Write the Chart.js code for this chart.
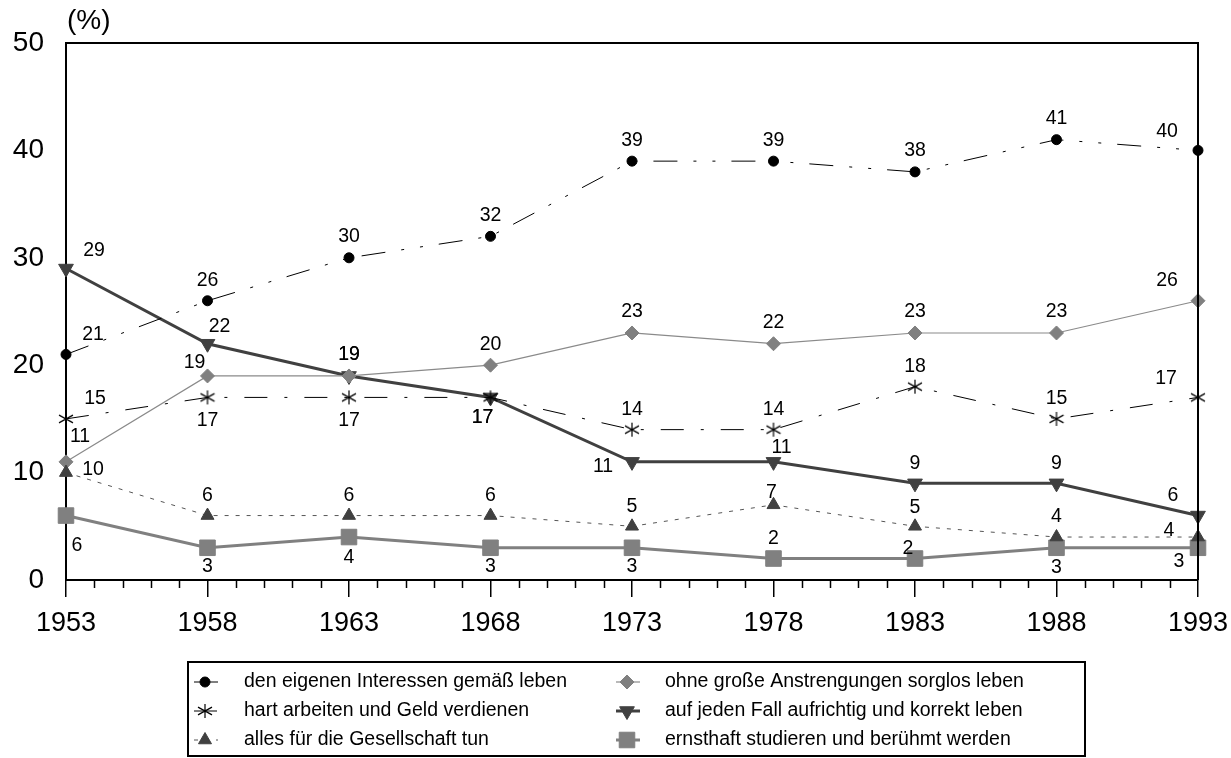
<!DOCTYPE html>
<html>
<head>
<meta charset="utf-8">
<script src="https://cdn.jsdelivr.net/npm/chart.js@4"></script>
<style>
  html, body { margin: 0; padding: 0; background: #fff; }
  canvas { display: block; }
</style>
</head>
<body>
<canvas id="chart" width="1231" height="758"></canvas>
<script>
// survey years and y ticks
const years = [1953, 1958, 1963, 1968, 1973, 1978, 1983, 1988, 1993];
const yTicks = [0, 10, 20, 30, 40, 50];

// series values (%)
const eigeneInteressen = [21, 26, 30, 32, 39, 39, 38, 41, 40];
const hartArbeiten = [15, 17, 17, 17, 14, 14, 18, 15, 17];
const gesellschaft = [10, 6, 6, 6, 5, 7, 5, 4, 4];
const sorglos = [11, 19, 19, 20, 23, 22, 23, 23, 26];
const aufrichtig = [29, 22, 19, 17, 11, 11, 9, 9, 6];
const beruehmt = [6, 3, 4, 3, 3, 2, 2, 3, 3];

// where each value label sits relative to its point (dx, dy)
const offEigene = [[27,-20],[0,-20],[0,-21],[0,-21],[0,-21],[0,-21],[0,-21],[0,-21],[-31,-19]];
const offHart = [[29,-20],[0,23],[0,23],[-8,20],[0,-20],[0,-20],[0,-20],[0,-20],[-32,-19]];
const offGesell = [[27,-3],[0,-20],[0,-20],[0,-20],[0,-20],[-2,-12],[0,-19],[0,-20],[-29,-6]];
const offSorglos = [[14,-25],[-13,-13],[0,-21],[0,-21],[0,-21],[0,-21],[0,-21],[0,-21],[-31,-20]];
const offAufrichtig = [[28,-18],[12,-17],[0,-21],[-8,20],[-29,5],[8,-14],[0,-20],[0,-20],[-25,-20]];
const offBeruehmt = [[11,30],[0,19],[0,21],[0,19],[0,19],[0,-20],[-7,-10],[0,20],[-19,14]];

const FONT = '"Liberation Sans", Arial, sans-serif';

// six-armed asterisk marker
function makeStar(r) {
  const c = document.createElement('canvas');
  c.width = c.height = r * 2 + 2;
  const g = c.getContext('2d');
  const m = r + 1;
  g.strokeStyle = '#000';
  g.lineWidth = 1.2;
  g.beginPath();
  g.moveTo(m, m - r); g.lineTo(m, m + r);
  g.moveTo(m - r, m - r * 0.55); g.lineTo(m + r, m + r * 0.55);
  g.moveTo(m - r, m + r * 0.55); g.lineTo(m + r, m - r * 0.55);
  g.stroke();
  return c;
}

const toPoints = vals => vals.map((v, i) => ({ x: years[i], y: v }));

const datasets = [
  {
    label: 'den eigenen Interessen gemäß leben',
    data: toPoints(eigeneInteressen), offsets: offEigene,
    borderColor: '#000', borderWidth: 1, borderDash: [24, 16, 3, 16, 3, 16],
    pointStyle: 'circle', pointRadius: 5, pointBackgroundColor: '#000', pointBorderColor: '#000'
  },
  {
    label: 'hart arbeiten und Geld verdienen',
    data: toPoints(hartArbeiten), offsets: offHart,
    borderColor: '#000', borderWidth: 1, borderDash: [23, 17, 3, 17],
    pointStyle: makeStar(7), pointRadius: 7
  },
  {
    label: 'alles für die Gesellschaft tun',
    data: toPoints(gesellschaft), offsets: offGesell,
    borderColor: '#555', borderWidth: 1, borderDash: [4, 7],
    pointStyle: 'triangle', pointRadius: 7.5, pointBackgroundColor: '#404040', pointBorderColor: '#404040'
  },
  {
    label: 'ohne große Anstrengungen sorglos leben',
    data: toPoints(sorglos), offsets: offSorglos,
    borderColor: '#8a8a8a', borderWidth: 1.2,
    pointStyle: 'rectRot', pointRadius: 7, pointBackgroundColor: '#808080', pointBorderColor: '#808080'
  },
  {
    label: 'auf jeden Fall aufrichtig und korrekt leben',
    data: toPoints(aufrichtig), offsets: offAufrichtig,
    borderColor: '#404040', borderWidth: 3,
    pointStyle: 'triangle', rotation: 180, pointRadius: 8.5, pointBackgroundColor: '#404040', pointBorderColor: '#404040'
  },
  {
    label: 'ernsthaft studieren und berühmt werden',
    data: toPoints(beruehmt), offsets: offBeruehmt,
    borderColor: '#808080', borderWidth: 3,
    pointStyle: 'rect', pointRadius: 11, pointBackgroundColor: '#808080', pointBorderColor: '#808080'
  }
];
datasets.forEach(ds => { ds.clip = false; ds.tension = 0; ds.fill = false; ds.pointBorderWidth = 1; });

const valueLabels = {
  id: 'valueLabels',
  afterDatasetsDraw(chart) {
    const ctx = chart.ctx;
    ctx.save();
    ctx.font = '19.5px ' + FONT;
    ctx.fillStyle = '#000';
    ctx.textAlign = 'center';
    ctx.textBaseline = 'middle';
    chart.data.datasets.forEach((ds, i) => {
      chart.getDatasetMeta(i).data.forEach((pt, j) => {
        const o = ds.offsets[j];
        ctx.fillText(String(ds.data[j].y), pt.x + o[0], pt.y + o[1]);
      });
    });
    ctx.restore();
  }
};

const frame = {
  id: 'frame',
  afterDraw(chart) {
    const { ctx, chartArea: a, scales } = chart;
    ctx.save();
    ctx.strokeStyle = '#000';
    ctx.lineWidth = 2;
    ctx.beginPath();
    ctx.moveTo(a.left - 1, a.top);
    ctx.lineTo(a.right, a.top);
    ctx.lineTo(a.right, a.bottom);
    ctx.stroke();
    // minor ticks for every year
    ctx.lineWidth = 1.5;
    ctx.beginPath();
    for (let yr = years[0]; yr <= years[years.length - 1]; yr++) {
      if (years.includes(yr)) continue;
      const x = Math.round(scales.x.getPixelForValue(yr)) + 0.5;
      ctx.moveTo(x, a.bottom);
      ctx.lineTo(x, a.bottom + 8);
    }
    ctx.stroke();
    // unit label
    ctx.font = '28px ' + FONT;
    ctx.fillStyle = '#000';
    ctx.textAlign = 'left';
    ctx.textBaseline = 'middle';
    ctx.fillText('(%)', a.left + 1, 21);
    ctx.restore();
  }
};

// two-column boxed legend below the plot
const boxLegend = {
  id: 'boxLegend',
  afterDraw(chart) {
    const ctx = chart.ctx;
    ctx.save();
    ctx.strokeStyle = '#000';
    ctx.lineWidth = 2;
    ctx.strokeRect(188, 662, 897, 94);
    const colMarker = [205, 627];
    const colText = [244, 665];
    const rowY = [682, 711, 740];
    chart.data.datasets.forEach((ds, i) => {
      const col = Math.floor(i / 3), row = i % 3;
      const mx = colMarker[col], my = rowY[row];
      ctx.save();
      ctx.strokeStyle = ds.borderColor;
      ctx.lineWidth = ds.borderWidth;
      ctx.setLineDash(ds.borderDash || []);
      ctx.beginPath();
      ctx.moveTo(mx - 11, my);
      ctx.lineTo(mx + 13, my);
      ctx.stroke();
      ctx.restore();
      ctx.fillStyle = ds.pointBackgroundColor || '#000';
      ctx.strokeStyle = ds.pointBorderColor || '#000';
      ctx.lineWidth = 1;
      Chart.helpers.drawPoint(ctx, {
        pointStyle: ds.pointStyle,
        radius: ds.pointRadius,
        rotation: ds.rotation || 0,
        borderWidth: 1
      }, mx, my);
      ctx.fillStyle = '#000';
      ctx.font = '19.5px ' + FONT;
      ctx.textAlign = 'left';
      ctx.textBaseline = 'middle';
      ctx.fillText(ds.label, colText[col], my);
    });
    ctx.restore();
  }
};

new Chart(document.getElementById('chart'), {
  type: 'line',
  data: { datasets },
  options: {
    responsive: false,
    animation: false,
    layout: { padding: { top: 43, right: 33, left: 0, bottom: 0 } },
    plugins: { legend: { display: false }, tooltip: { enabled: false } },
    scales: {
      x: {
        type: 'linear',
        min: years[0],
        max: years[years.length - 1],
        afterBuildTicks: scale => { scale.ticks = years.map(v => ({ value: v })); },
        afterFit: scale => { scale.height = 178; scale.paddingLeft = 0; scale.paddingRight = 0; },
        ticks: {
          callback: v => String(v),
          font: { family: FONT, size: 27 },
          color: '#000',
          padding: 10,
          maxRotation: 0,
          autoSkip: false
        },
        grid: { drawOnChartArea: false, drawTicks: true, tickLength: 17, color: '#000', lineWidth: 1.5 },
        border: { display: true, color: '#000', width: 2 }
      },
      y: {
        min: 0,
        max: 50,
        afterBuildTicks: scale => { scale.ticks = yTicks.map(v => ({ value: v })); },
        afterFit: scale => { scale.width = 66; },
        ticks: {
          font: { family: FONT, size: 28 },
          color: '#000',
          padding: 22
        },
        grid: { drawOnChartArea: false, drawTicks: false },
        border: { display: true, color: '#000', width: 2 }
      }
    }
  },
  plugins: [valueLabels, frame, boxLegend]
});
</script>
</body>
</html>
